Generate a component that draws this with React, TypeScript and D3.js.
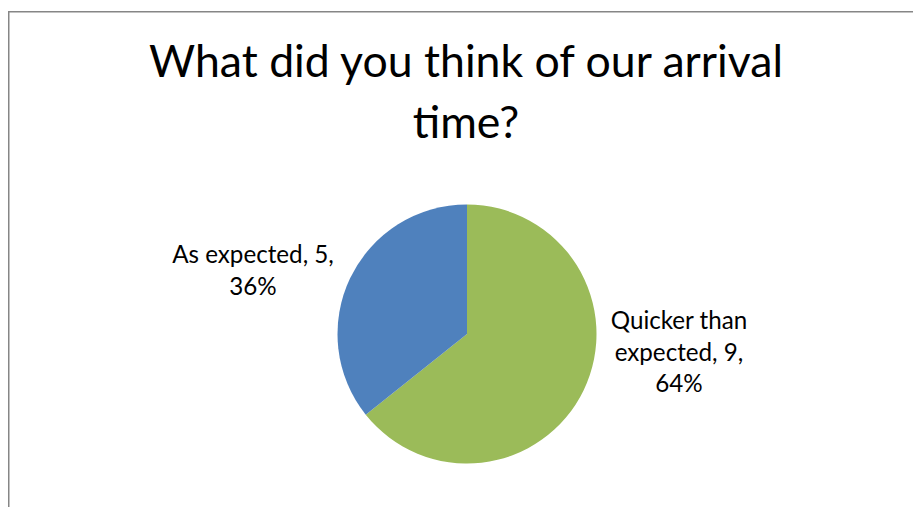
import React, { useEffect, useRef } from "react";
import * as d3 from "d3";

const titleLines = ["What did you think of our arrival", "time?"];
const categories = ["Quicker than expected", "As expected"];
const values = [9, 5];
const percents = ["64%", "36%"];
const colors = ["#9BBB59", "#4F81BD"];

const W = 913;
const H = 507;
const FONT = "Lato, 'Open Sans', sans-serif";

export default function App() {
  const ref = useRef<SVGSVGElement>(null);

  useEffect(() => {
    const svg = d3.select(ref.current);
    svg.selectAll("*").remove();

    svg
      .append("rect")
      .attr("x", 8.75)
      .attr("y", 11.75)
      .attr("width", 940)
      .attr("height", 540)
      .attr("fill", "#fff")
      .attr("stroke", "#868686")
      .attr("stroke-width", 1.5);

    svg
      .append("g")
      .selectAll("text")
      .data(titleLines)
      .join("text")
      .attr("x", 466)
      .attr("y", (_d, i) => 77 + i * 61)
      .attr("text-anchor", "middle")
      .attr("font-family", FONT)
      .attr("font-size", 44.6)
      .attr("fill", "#000")
      .text((d) => d);

    const cx = 467;
    const cy = 334;
    const r = 129.5;

    const pie = d3
      .pie<number>()
      .sort(null)
      .value((d) => d);
    const arcs = pie(values);
    const arc = d3.arc<d3.PieArcDatum<number>>().innerRadius(0).outerRadius(r);

    const g = svg.append("g").attr("transform", `translate(${cx},${cy})`);
    g.selectAll("path")
      .data(arcs)
      .join("path")
      .attr("d", arc)
      .attr("fill", (_d, i) => colors[i]);

    // label placement (Excel best-fit, outside end)
    const labelPos = [
      { x: 679 - cx, y: 329 - cy },
      { x: 253 - cx, y: 263 - cy },
    ];
    const labelLines = [
      ["Quicker than", `expected, ${values[0]},`, percents[0]],
      [`${categories[1]}, ${values[1]},`, percents[1]],
    ];

    labelLines.forEach((lines, i) => {
      const t = g
        .append("text")
        .attr("text-anchor", "middle")
        .attr("font-family", FONT)
        .attr("font-size", 24.2)
        .attr("fill", "#000");
      lines.forEach((ln, j) => {
        t.append("tspan")
          .attr("x", labelPos[i].x)
          .attr("y", labelPos[i].y + j * 31.5)
          .text(ln);
      });
    });
  }, []);

  return (
    <svg
      ref={ref}
      width={W}
      height={H}
      style={{ position: "absolute", left: 0, top: 0, background: "#fff" }}
    />
  );
}
